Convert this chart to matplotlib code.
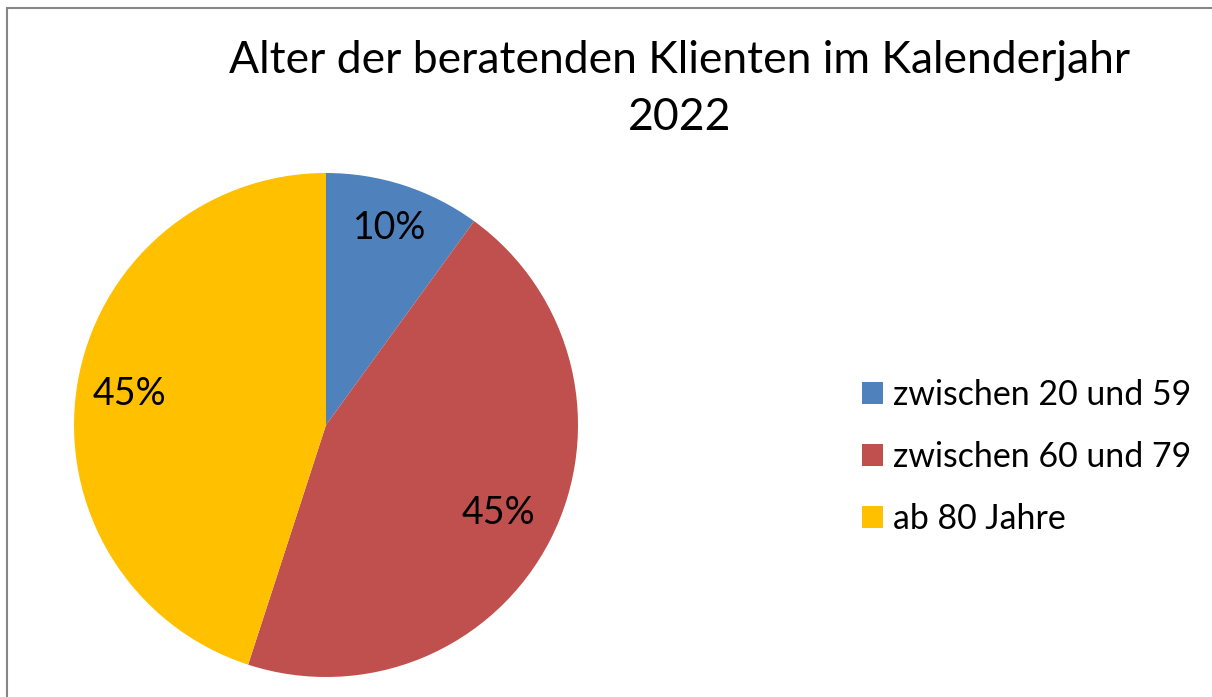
import matplotlib.pyplot as plt
from matplotlib.patches import Rectangle

plt.rcParams['font.family'] = ['Lato', 'DejaVu Sans']

title = 'Alter der beratenden Klienten im Kalenderjahr\n2022'
categories = ['zwischen 20 und 59', 'zwischen 60 und 79', 'ab 80 Jahre']
shares = [10, 45, 45]
colors = ['#4F81BD', '#C0504D', '#FFC000']

W, H = 1212, 697
fig = plt.figure(figsize=(W / 100, H / 100), dpi=100)

# pie area: center (326, 425) px, radius 252 px
cx, cy, r = 326, 425, 252
ax = fig.add_axes([(cx - r) / W, (H - cy - r) / H, 2 * r / W, 2 * r / H])
wedges, texts, autotexts = ax.pie(
    shares, colors=colors, startangle=90, counterclock=False, radius=1,
    autopct='%d%%', pctdistance=1.0,
    wedgeprops=dict(linewidth=0),
    textprops=dict(fontsize=27, color='black'))
ax.set_xlim(-1, 1)
ax.set_ylim(-1, 1)
ax.set_aspect('equal')

# excel "best fit" places the labels at slightly different radii
label_dist = [0.82, 0.77, 0.79]
for t, d in zip(autotexts, label_dist):
    x, y = t.get_position()
    t.set_position((x * d, y * d))

fig.text(680 / W, 1 - 89 / H, title, ha='center', va='center',
         fontsize=32, linespacing=1.5)

fig.legend(wedges, categories, loc='center left',
           bbox_to_anchor=(862 / W, 1 - 457 / H), frameon=False,
           fontsize=24.4, handlelength=0.62, handleheight=0.62,
           handletextpad=0.3, labelspacing=0.89, borderpad=0, borderaxespad=0)

# chart border (top and left edges visible)
fig.add_artist(Rectangle((6.5 / W, -0.1), 1.2, (H - 7.5) / H + 0.1,
                         transform=fig.transFigure, fill=False,
                         edgecolor='#868686', linewidth=1.5))

fig.savefig('out.png', dpi=100)
